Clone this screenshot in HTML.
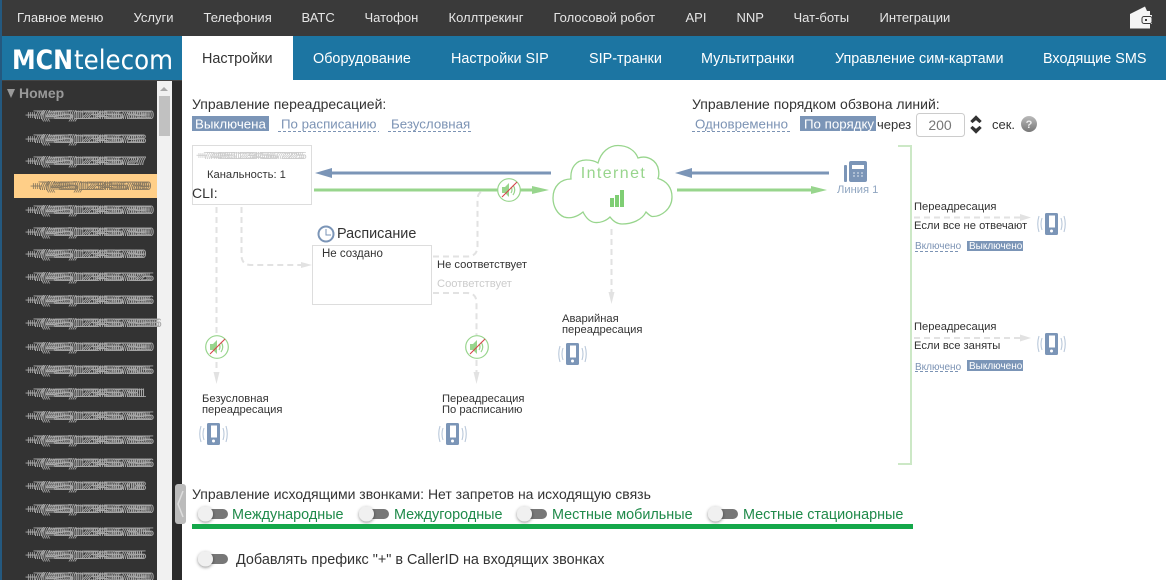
<!DOCTYPE html>
<html><head><meta charset="utf-8"><style>
html,body{margin:0;padding:0;width:1166px;height:580px;overflow:hidden;background:#fff}
svg{display:block}
text{font-family:"Liberation Sans",sans-serif}
.m{font-size:13px;fill:#e6e6e6}
.t{font-size:14.4px;fill:#fff}
.n{font-size:11.5px;fill:#a8a8a8;letter-spacing:1.2px;filter:url(#smear)}
.b{font-size:14px;fill:#333}
.s{font-size:11.2px;fill:#333}
.l{font-size:13.3px;fill:#7c93b4}
.g{font-size:14.4px;fill:#1f8a4a}
.d{fill:none;stroke:#e2e2e2;stroke-width:2;stroke-dasharray:6 4}
</style></head><body>
<svg width="1166" height="580" viewBox="0 0 1166 580" xmlns="http://www.w3.org/2000/svg">
<defs>
<filter id="smear" x="-5%" y="-30%" width="115%" height="160%">
<feOffset in="SourceGraphic" dx="2" result="a"/><feOffset in="SourceGraphic" dx="4" result="b"/><feOffset in="SourceGraphic" dx="6" result="c"/>
<feMerge result="m"><feMergeNode in="SourceGraphic"/><feMergeNode in="a"/><feMergeNode in="b"/><feMergeNode in="c"/></feMerge>
<feGaussianBlur in="m" stdDeviation="0.35"/>
</filter>
<filter id="sh" x="-50%" y="-50%" width="200%" height="200%"><feDropShadow dx="0" dy="1" stdDeviation="1.5" flood-opacity=".45"/></filter>
<linearGradient id="hg" x1="0" y1="0" x2="0" y2="1"><stop offset="0" stop-color="#bbb"/><stop offset="1" stop-color="#777"/></linearGradient>
<symbol id="mob" viewBox="0 0 27 22" width="27" height="22" overflow="visible">
<rect x="7" y="0" width="13" height="22" rx="1.500" fill="#7b95b7"/><rect x="11" y="2.500" width="6" height="12" fill="#fff"/><circle cx="13.500" cy="18" r="1.500" fill="#fff"/>
<path d="M4 5Q2 11 4 17M1 3Q-1.500 11 1 19M23 5Q25 11 23 17M26 3Q28.500 11 26 19" fill="none" stroke="#b9c8da" stroke-width="1.100"/>
</symbol>
<symbol id="mute" viewBox="0 0 24 24" width="24" height="24">
<circle cx="12" cy="12" r="11.300" fill="#fff" stroke="#98d58d" stroke-width="1.200"/>
<path d="M5 9h3l4-4v14l-4-4H5z" fill="#98d58d"/>
<path d="M14 9Q16 12 14 15M16 7Q19.500 12 16 17" fill="none" stroke="#98d58d" stroke-width="1.200"/>
<path d="M5 19L20 4" stroke="#d8404a" stroke-width="1.100"/>
</symbol>
<symbol id="tog" viewBox="0 0 32 18" width="32" height="18" overflow="visible">
<rect x="7" y="4" width="24" height="10" rx="5" fill="#777"/><circle cx="8.500" cy="9" r="7.500" fill="#f0f0f0" filter="url(#sh)"/>
</symbol>
</defs>

<rect width="1166" height="580" fill="#fff"/>
<!-- top bar -->
<rect width="1166" height="36" fill="#3a3a3a"/>
<rect width="1166" height="44" y="36" fill="#1c75a2"/>
<rect x="0" y="0" width="2" height="580" fill="#24597f"/>
<g class="m">
<text class="m" x="17" y="22">Главное меню</text><text class="m" x="133.500" y="22">Услуги</text><text class="m" x="203.500" y="22">Телефония</text><text class="m" x="301.500" y="22">ВАТС</text><text class="m" x="364.500" y="22">Чатофон</text><text class="m" x="448.500" y="22">Коллтрекинг</text><text class="m" x="553.500" y="22">Голосовой робот</text><text class="m" x="685.500" y="22">API</text><text class="m" x="736.500" y="22">NNP</text><text class="m" x="793.500" y="22">Чат-боты</text><text class="m" x="879.500" y="22">Интеграции</text>
</g>
<!-- wallet -->
<path d="M1130 14L1145 6.500L1147 11H1150V15H1152V24H1150V28.500H1130Z" fill="#f4f4f4"/>
<rect x="1142" y="16.500" width="10" height="7" rx="2" fill="#f4f4f4" stroke="#3a3a3a"/>
<rect x="1145" y="19" width="2" height="2" fill="#3a3a3a"/>
<!-- logo -->
<text x="12" y="69" font-size="27" font-weight="700" fill="#fff" textLength="61" lengthAdjust="spacingAndGlyphs" style="font-family:'DejaVu Sans',sans-serif">MCN</text>
<text x="74" y="69" font-size="27" fill="#fff" textLength="99" lengthAdjust="spacingAndGlyphs" style="font-family:'DejaVu Sans',sans-serif">telecom</text>
<!-- tabs -->
<rect x="182" y="36" width="111" height="44" fill="#fff"/>
<text x="202" y="63" font-size="14.400" fill="#333">Настройки</text>
<text class="t" x="313" y="63">Оборудование</text><text class="t" x="451" y="63">Настройки SIP</text><text class="t" x="589" y="63">SIP-транки</text><text class="t" x="701" y="63">Мультитранки</text><text class="t" x="835" y="63">Управление сим-картами</text><text class="t" x="1043" y="63">Входящие SMS</text>
<!-- sidebar -->
<rect x="2" y="80" width="155" height="500" fill="#333"/>
<rect x="2" y="80" width="180" height="1" fill="#444"/>
<rect x="157" y="81" width="15" height="499" fill="#f1f1f1"/>
<rect x="159" y="96" width="11" height="40" fill="#c1c1c1"/>
<path d="M164 87l-4 4h8z" fill="#a8a8a8"/>
<rect x="172" y="81" width="10" height="499" fill="#2b2b2b"/>
<path d="M7 89h8l-4 9z" fill="#999"/>
<text x="19" y="98" font-size="14" font-weight="700" fill="#999">Номер</text>
<rect x="14" y="174" width="143" height="24" fill="#ffcf88"/>
<g>
<text class="n" x="25" y="119">+7(495)1234567890</text>
<text class="n" x="25" y="143">+7(495)123456793</text>
<text class="n" x="25" y="165">+7(495)123456727</text>
<text class="n" x="30" y="190" style="fill:#8a7a60">+7(495)123456789</text>
<text class="n" x="25" y="214">+7(495)1234567890</text>
<text class="n" x="25" y="236">+7(495)1234567890</text>
<text class="n" x="25" y="258">+7(495)123456789</text>
<text class="n" x="25" y="281">+7(495)1234567825</text>
<text class="n" x="25" y="304">+7(495)1234567896</text>
<text class="n" x="25" y="327">+7(495)12345678966</text>
<text class="n" x="25" y="351">+7(495)1234567890</text>
<text class="n" x="25" y="374">+7(495)1234567805</text>
<text class="n" x="25" y="397">+7(495)123456781</text>
<text class="n" x="25" y="420">+7(495)1234567895</text>
<text class="n" x="25" y="444">+7(495)1234567895</text>
<text class="n" x="25" y="467">+7(495)1234567896</text>
<text class="n" x="25" y="490">+7(495)123456708</text>
<text class="n" x="25" y="513">+7(495)1234567890</text>
<text class="n" x="25" y="536">+7(495)1234567805</text>
<text class="n" x="25" y="559">+7(495)123456785</text>
<text class="n" x="25" y="581">+7(495)1234567890</text>
</g>
<rect x="175" y="484" width="11" height="40" rx="3" fill="#bbb"/>
<path d="M183 491L178 504L183 517" fill="none" stroke="#ddd" stroke-width="1.500"/>

<!-- heading controls -->
<text class="b" x="192" y="109">Управление переадресацией:</text>
<rect x="192" y="116" width="77" height="15" fill="#7b95b7"/>
<text x="195" y="128.500" font-size="13.300" fill="#fff">Выключена</text>
<text class="l" x="281" y="128.500">По расписанию</text>
<path d="M278 131.500H379M388 131.500H472" stroke="#7c93b4" stroke-dasharray="3 2" fill="none"/>
<text class="l" x="391" y="128.500">Безусловная</text>

<text class="b" x="692" y="109">Управление порядком обзвона линий:</text>
<text class="l" x="695" y="128.500">Одновременно</text>
<path d="M692 131.500H791" stroke="#7c93b4" stroke-dasharray="3 2" fill="none"/>
<rect x="800" y="116" width="76" height="15" fill="#7b95b7"/>
<text x="804" y="128.500" font-size="13.300" fill="#fff">По порядку</text>
<text x="877" y="129" font-size="13" fill="#333">через</text>
<rect x="916.500" y="113.500" width="48" height="23" rx="3" fill="#fff" stroke="#ccc"/>
<text x="940" y="130" font-size="14" fill="#777" text-anchor="middle">200</text>
<path d="M976 116l-5 5 1.500 1.500 3.500-3 3.500 3 1.500-1.500zM976 133l-5-5 1.500-1.500 3.500 3 3.500-3 1.500 1.500z" fill="#333" stroke="#333"/>
<text x="992" y="129" font-size="13" fill="#333">сек.</text>
<circle cx="1029" cy="124" r="8" fill="url(#hg)"/>
<text x="1029" y="128" font-size="11" font-weight="700" fill="#eee" text-anchor="middle">?</text>

<!-- number box -->
<rect x="192.500" y="145.500" width="119" height="59" fill="#fff" stroke="#ddd"/>
<text x="196" y="159" font-size="10" letter-spacing="1.500" fill="#ccc" filter="url(#smear)">+74951234567225</text>
<text x="207" y="178" font-size="11.200" fill="#333">Канальность: 1</text>
<text x="192" y="198" font-size="14" fill="#333">CLI:</text>

<!-- main arrows left -->
<path d="M551 173H330" stroke="#7b95b7" stroke-width="3" fill="none"/>
<path d="M315 173L332 168V178Z" fill="#7b95b7"/>
<path d="M314 190H532" stroke="#98d58d" stroke-width="3" fill="none"/>
<path d="M549 190L532 186V194Z" fill="#98d58d"/>
<use href="#mute" x="497" y="178"/>

<!-- dashed left lines -->
<path class="d" d="M216.500 207V350"/>
<path class="d" d="M216.500 362V376"/>
<path d="M216.500 384L213.500 372H219.500Z" fill="#e2e2e2"/>
<path class="d" d="M241.500 207V255Q241.500 265 251 265H302"/>
<path d="M312 265L301 262V268Z" fill="#e2e2e2"/>
<!-- schedule -->
<circle cx="326" cy="234" r="7.500" fill="#fff" stroke="#7b95b7" stroke-width="2"/>
<path d="M326 229V235H331" fill="none" stroke="#7b95b7"/>
<text x="337" y="238" font-size="14.400" fill="#333">Расписание</text>
<rect x="312.500" y="245.500" width="119" height="59" fill="#fff" stroke="#ddd"/>
<text x="322" y="257" font-size="11.500" fill="#333">Не создано</text>
<text class="s" x="437" y="268">Не соответствует</text>
<text x="437" y="287" font-size="11.200" fill="#ccc">Соответствует</text>
<path class="d" d="M433 256.500H467Q477.500 256.500 477.500 246V200Q477.500 192 484 191"/>
<path class="d" d="M433 293H467Q476.500 293 476.500 303V335"/>
<path class="d" d="M476.500 360V376"/>
<path d="M476.500 384L473.500 372H479.500Z" fill="#e2e2e2"/>
<use href="#mute" x="205" y="335"/>
<use href="#mute" x="465" y="335"/>

<!-- forward labels -->
<text class="s" x="202" y="402">Безусловная</text><text class="s" x="202" y="413">переадресация</text>
<use href="#mob" x="200" y="423"/>
<text class="s" x="442" y="402">Переадресация</text><text class="s" x="442" y="413">По расписанию</text>
<use href="#mob" x="439" y="423"/>
<text class="s" x="562" y="322">Аварийная</text><text class="s" x="562" y="333">переадресация</text>
<use href="#mob" x="559" y="343"/>

<!-- cloud -->
<path d="M571 179C570 168 576 160 586 160C591 160 595 161 598 163C601 152 609 145.500 618 145.500C627 145.500 635 150 638 158C647 155 657 160 658.500 170C659 173 659 176 658 178.500C667 181 672 188 672 197C672 209 661 217 652 216.500C650 216 648 214 646 212C642 220 632 224 622 224C617 224 613 221 610 217C606 221 600 223 595 222.500C590 222 586 218 583 212C577 217 570 219 564 217C557 214 553 206 553 198C553 186 561 179 571 179Z" fill="#fff" stroke="#98d58d" stroke-width="1.300"/>
<text x="613.500" y="178" font-size="16" letter-spacing="1.400" fill="#98d58d" text-anchor="middle">Internet</text>
<rect x="610" y="198" width="4" height="9" fill="#7fce74"/><rect x="615" y="195" width="4" height="12" fill="#7fce74"/><rect x="620" y="190" width="4" height="17" fill="#7fce74"/>
<path class="d" d="M611.500 229V296"/>
<path d="M611.500 304L608.500 292H614.500Z" fill="#e2e2e2"/>

<!-- right arrows -->
<path d="M829 173H690" stroke="#7b95b7" stroke-width="3" fill="none"/>
<path d="M675 173L692 168V178Z" fill="#7b95b7"/>
<path d="M677 190H812" stroke="#98d58d" stroke-width="3" fill="none"/>
<path d="M827 190L811 186V194Z" fill="#98d58d"/>
<!-- desk phone -->
<rect x="849" y="161" width="18" height="21" rx="2" fill="#7b95b7"/>
<rect x="844" y="165" width="3" height="17" rx="1" fill="#7b95b7"/>
<rect x="852" y="165" width="12" height="4" fill="#fff"/>
<path d="M853 173h2M857 173h2M861 173h2M853 176h2M857 176h2M861 176h2" stroke="#dfe6ef" stroke-width="1"/>
<text x="837" y="193" font-size="11.200" fill="#8fa5c0">Линия 1</text>

<!-- bracket -->
<path d="M898 146H911V464H898" fill="none" stroke="#cce8c6" stroke-width="2"/>

<text class="s" x="914" y="210">Переадресация</text>
<path class="d" d="M914 217.500H1021" stroke-width="1.500"/>
<path d="M1031 217.500L1020 214V221Z" fill="#e2e2e2"/>
<text class="s" x="914" y="229">Если все не отвечают</text>
<use href="#mob" x="1038" y="213"/>
<text x="915" y="249" font-size="10" fill="#7c93b4">Включено</text>
<path d="M915 251.500H960" stroke="#7c93b4" stroke-dasharray="3 2"/>
<rect x="967" y="241" width="56" height="10" fill="#7b95b7"/>
<text x="969" y="249" font-size="10" fill="#fff">Выключено</text>

<text class="s" x="914" y="330">Переадресация</text>
<path class="d" d="M914 338H1021" stroke-width="1.500"/>
<path d="M1031 338L1020 334.500V341.500Z" fill="#e2e2e2"/>
<text class="s" x="914" y="349">Если все заняты</text>
<use href="#mob" x="1038" y="333"/>
<text x="915" y="370" font-size="10" fill="#7c93b4">Включено</text>
<path d="M915 371.500H960" stroke="#7c93b4" stroke-dasharray="3 2"/>
<rect x="967" y="360" width="56" height="11" fill="#7b95b7"/>
<text x="969" y="369" font-size="10" fill="#fff">Выключено</text>

<!-- outgoing -->
<text class="b" x="192" y="499">Управление исходящими звонками: Нет запретов на исходящую связь</text>
<use href="#tog" x="197" y="505"/>
<text class="g" x="232" y="519">Международные</text>
<use href="#tog" x="358" y="505"/>
<text class="g" x="394" y="519">Междугородные</text>
<use href="#tog" x="516" y="505"/>
<text class="g" x="552" y="519">Местные мобильные</text>
<use href="#tog" x="707" y="505"/>
<text class="g" x="743" y="519">Местные стационарные</text>
<rect x="192" y="524" width="721" height="5" fill="#14a84a"/>
<use href="#tog" x="197" y="550"/>
<text x="236" y="564" font-size="14.400" fill="#333">Добавлять префикс "+" в CallerID на входящих звонках</text>
</svg>
</body></html>
